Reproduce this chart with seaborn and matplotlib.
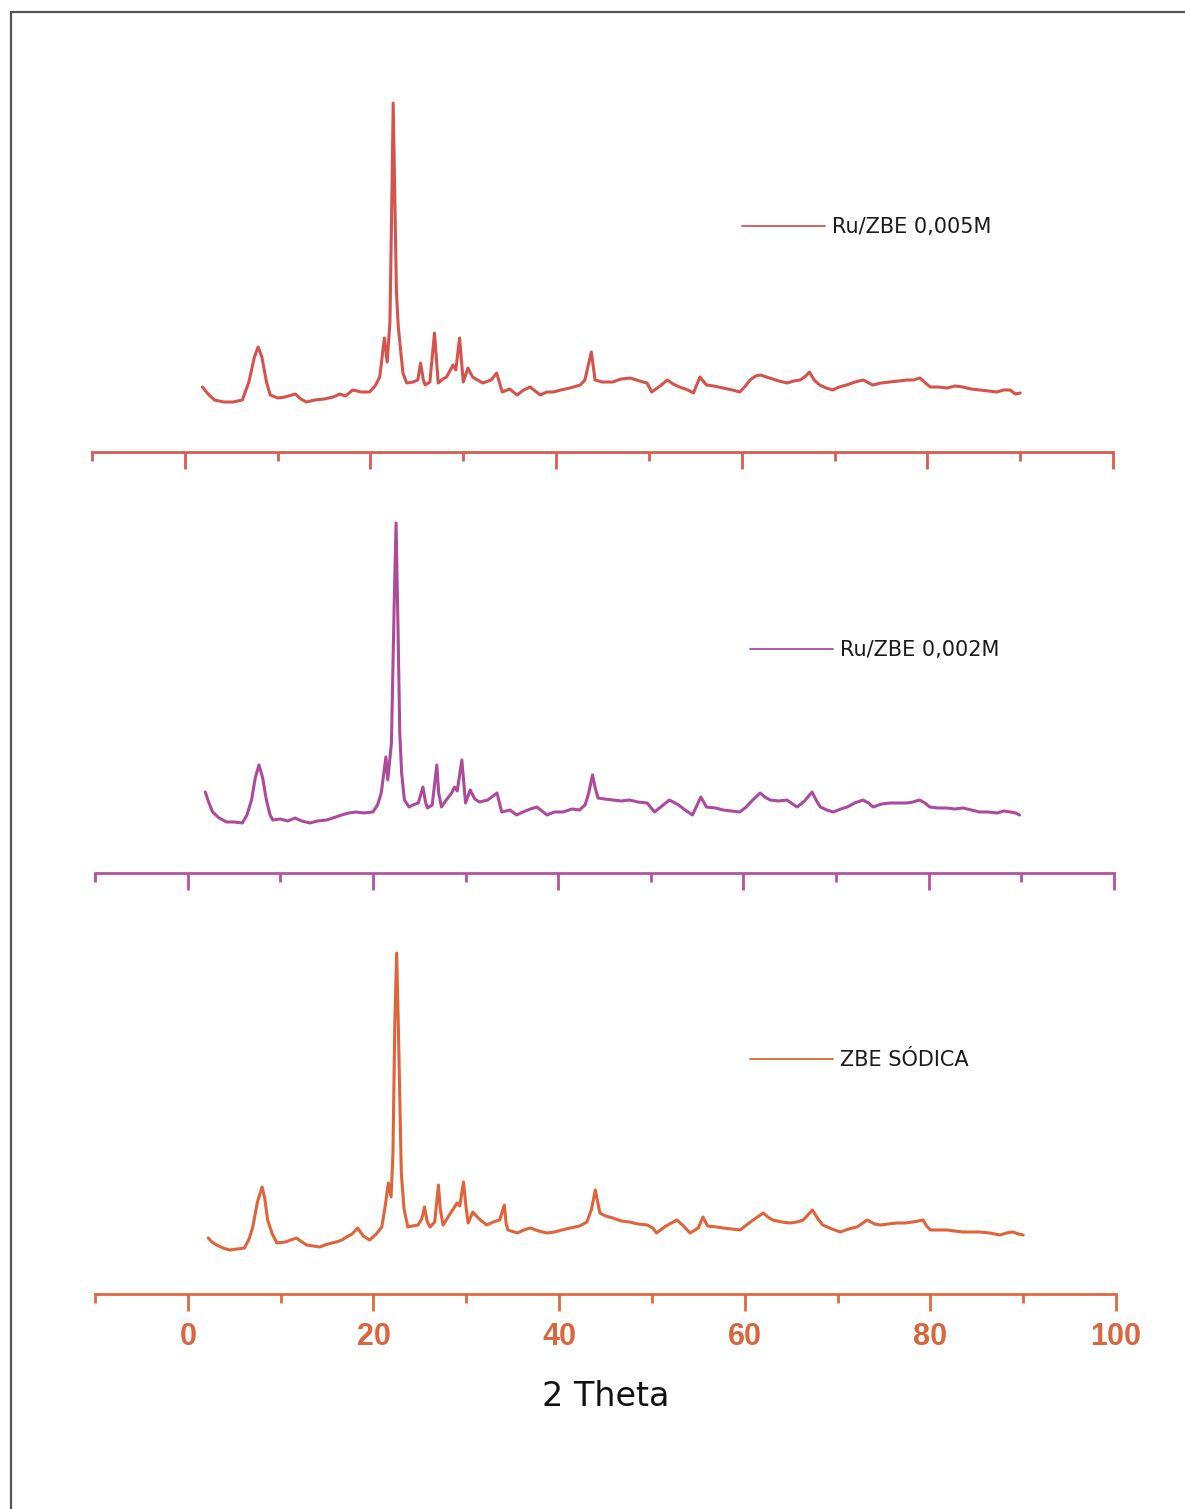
import matplotlib
matplotlib.use("Agg")
import matplotlib.pyplot as plt
import matplotlib.patches as mpatches
import seaborn as sns
import pandas as pd

# ---------------- data (intensity in a.u.) ----------------
x_ru005 = [1.9, 2.5, 3.2, 4.2, 5.2, 6.2, 6.9, 7.5, 7.9, 8.3, 8.8, 9.2, 10.0, 10.8, 11.9, 12.5, 13.1, 14.0,
           15.0, 16.0, 16.7, 17.3, 18.1, 19.0, 19.9, 20.5, 21.0, 21.5, 21.8, 22.1, 22.3, 22.45, 22.6, 22.8,
           23.0, 23.5, 23.9, 24.6, 25.1, 25.4, 25.7, 25.9, 26.4, 26.9, 27.3, 27.8, 28.2, 28.9, 29.2, 29.6,
           30.0, 30.5, 31.0, 32.1, 33.0, 33.6, 34.2, 35.0, 35.8, 36.5, 37.2, 38.3, 39.0, 39.7, 40.5, 41.5,
           42.6, 43.1, 43.8, 44.2, 45.0, 46.1, 47.0, 48.0, 49.0, 49.8, 50.3, 51.2, 52.0, 52.6, 53.3, 54.2,
           54.8, 55.5, 56.2, 57.0, 58.0, 59.0, 59.8, 60.4, 60.9, 61.5, 62.0, 63.0, 64.0, 64.9, 65.6, 66.3,
           66.9, 67.3, 67.8, 68.4, 69.1, 69.8, 70.5, 71.3, 72.2, 73.1, 74.1, 75.0, 76.0, 76.9, 77.8, 78.5,
           79.2, 79.8, 80.3, 81.2, 82.1, 83.0, 83.8, 84.7, 85.7, 86.6, 87.5, 88.2, 88.9, 89.5, 90.0]
y_ru005 = [65, 58, 52, 50, 50, 52, 70, 95, 105, 95, 70, 57, 54, 55, 58, 53, 50, 52,
           53, 55, 58, 56, 62, 60, 60, 66, 75, 114, 90, 130, 250, 349, 270, 160,
           125, 79, 69, 70, 72, 89, 72, 67, 70, 119, 69, 73, 75, 87, 82, 114,
           70, 84, 75, 69, 72, 79, 60, 63, 57, 62, 65, 57, 60, 60, 62, 64,
           67, 72, 100, 72, 70, 70, 73, 74, 71, 69, 60, 66, 72, 68, 65, 62,
           59, 75, 67, 66, 64, 62, 60, 66, 72, 76, 77, 74, 71, 69, 71, 72,
           76, 80, 72, 67, 64, 62, 65, 67, 70, 72, 67, 69, 70, 71, 72, 72,
           74, 69, 65, 65, 64, 66, 65, 63, 62, 61, 60, 62, 62, 58, 59]

x_ru002 = [1.9, 2.3, 2.7, 3.4, 4.2, 5.0, 5.9, 6.4, 6.9, 7.3, 7.7, 8.1, 8.5, 8.9, 9.2, 10.0, 10.8, 11.6,
           12.3, 13.2, 14.0, 15.0, 16.0, 16.6, 17.4, 18.2, 19.0, 20.0, 20.5, 20.9, 21.4, 21.6, 22.0, 22.3,
           22.5, 22.7, 22.9, 23.1, 23.4, 23.9, 24.3, 24.9, 25.4, 25.7, 25.9, 26.4, 26.9, 27.1, 27.4, 28.0,
           28.5, 28.8, 29.1, 29.6, 30.0, 30.5, 31.0, 31.5, 32.4, 33.4, 33.9, 34.8, 35.5, 36.2, 37.0, 37.7,
           38.8, 39.6, 40.5, 41.5, 42.3, 42.9, 43.3, 43.7, 44.0, 44.3, 45.0, 45.9, 46.8, 47.7, 48.6, 49.6,
           50.4, 51.2, 52.0, 53.0, 53.7, 54.5, 55.4, 56.0, 57.0, 57.8, 58.7, 59.6, 60.3, 61.0, 61.8, 62.3,
           62.9, 63.8, 64.7, 65.3, 65.8, 66.6, 67.4, 67.9, 68.3, 69.0, 69.7, 70.5, 71.2, 72.0, 72.9, 73.5,
           74.0, 74.9, 75.8, 76.7, 77.6, 78.3, 79.0, 79.6, 80.1, 81.0, 82.0, 82.8, 83.7, 84.6, 85.5, 86.4,
           87.4, 88.1, 88.8, 89.4, 89.8]
y_ru002 = [81, 70, 61, 55, 51, 51, 50, 58, 73, 95, 108, 95, 73, 58, 53, 54, 52, 55,
           52, 50, 52, 53, 56, 58, 60, 61, 60, 61, 68, 80, 116, 93, 130, 270,
           350, 250, 140, 100, 73, 66, 68, 70, 86, 70, 65, 68, 108, 80, 66, 74,
           80, 86, 82, 113, 70, 83, 74, 71, 73, 80, 61, 63, 58, 61, 64, 66,
           58, 61, 61, 64, 63, 68, 80, 98, 85, 75, 74, 73, 72, 73, 71, 70,
           61, 67, 73, 68, 63, 58, 76, 66, 65, 63, 62, 61, 66, 73, 80, 76,
           73, 72, 73, 69, 66, 72, 81, 72, 66, 63, 61, 64, 66, 70, 73, 70,
           66, 69, 70, 70, 70, 71, 73, 70, 66, 65, 65, 64, 65, 63, 61, 61,
           60, 62, 61, 60, 58]

x_zbe = [2.2, 2.6, 3.1, 3.8, 4.5, 5.3, 6.1, 6.6, 7.0, 7.5, 8.0, 8.3, 8.6, 9.1, 9.6, 10.5, 11.1, 11.7,
         12.3, 12.8, 13.5, 14.2, 15.1, 16.0, 16.6, 17.1, 17.7, 18.3, 18.9, 19.6, 20.3, 20.9, 21.3, 21.6,
         21.9, 22.1, 22.3, 22.5, 22.7, 23.0, 23.3, 23.7, 24.2, 24.8, 25.2, 25.5, 25.8, 26.1, 26.6, 27.0,
         27.2, 27.5, 28.1, 28.6, 29.0, 29.3, 29.7, 30.0, 30.2, 30.7, 31.4, 32.2, 32.9, 33.6, 34.1, 34.3,
         34.5, 35.5, 36.2, 36.9, 37.8, 38.7, 39.5, 40.3, 41.2, 42.2, 43.0, 43.5, 43.9, 44.2, 44.4, 45.0,
         45.8, 46.7, 47.6, 48.5, 49.5, 50.1, 50.5, 51.5, 52.7, 53.4, 54.1, 55.0, 55.5, 56.0, 57.0, 57.7,
         58.6, 59.5, 60.2, 60.9, 62.0, 62.5, 63.0, 64.0, 64.9, 65.6, 66.3, 67.3, 67.9, 68.4, 69.4, 70.3,
         71.2, 72.1, 73.2, 74.0, 74.6, 75.5, 76.4, 77.3, 78.1, 78.7, 79.2, 79.6, 80.0, 80.9, 81.8, 82.6,
         83.5, 84.4, 85.3, 86.4, 87.5, 88.2, 88.9, 89.5, 90.0]
y_zbe = [56, 52, 49, 46, 44, 45, 46, 55, 67, 92, 107, 95, 74, 60, 51, 52, 54, 56,
         52, 49, 48, 47, 50, 52, 54, 57, 60, 66, 58, 54, 60, 67, 90, 111,
         97, 140, 270, 341, 260, 121, 85, 67, 68, 69, 75, 87, 72, 67, 72, 109,
         85, 69, 78, 85, 91, 88, 112, 85, 71, 82, 75, 69, 72, 74, 89, 70,
         64, 61, 64, 66, 63, 61, 62, 64, 66, 68, 72, 85, 104, 90, 81, 78,
         76, 73, 72, 70, 69, 66, 61, 68, 74, 68, 61, 66, 77, 68, 67, 66,
         65, 64, 69, 74, 81, 77, 74, 72, 71, 72, 74, 84, 75, 69, 65, 62,
         65, 67, 74, 70, 69, 70, 71, 71, 72, 73, 74, 68, 64, 64, 64, 63,
         62, 62, 62, 61, 59, 61, 62, 60, 59]

labels = ["Ru/ZBE 0,005M", "Ru/ZBE 0,002M", "ZBE SÓDICA"]
major_ticks = [0, 20, 40, 60, 80, 100]
minor_ticks = [-10, 10, 30, 50, 70, 90]
x_label = "2 Theta"

# ---------------- style ----------------
sns.set_style("white")
plt.rcParams["font.family"] = ["Liberation Sans", "DejaVu Sans"]

W, H = 1185, 1509
fig = plt.figure(figsize=(W / 100, H / 100), dpi=100)
fig.patch.set_facecolor("white")

curve_colors = ["#d6534c", "#ad4a9d", "#e0633a"]
axis_colors = ["#dc5b52", "#b452a5", "#e2693e"]
label_color = "#d9663c"

# panel geometry in pixels: (left, right, axis y)
panels = [(92, 1113, 452), (95, 1114, 873), (95, 1116, 1294)]
panel_h = 380
legend_anchor = [(742, 227), (750, 650), (750, 1060)]

series = [(x_ru005, y_ru005), (x_ru002, y_ru002), (x_zbe, y_zbe)]

for i, ((xl, xr, yb), (xs, ys)) in enumerate(zip(panels, series)):
    ax = fig.add_axes([xl / W, (H - yb) / H, (xr - xl) / W, panel_h / H])
    ax.set_facecolor("none")
    df = pd.DataFrame({"x": xs, "y": ys})
    sns.lineplot(data=df, x="x", y="y", ax=ax, color=curve_colors[i], linewidth=2.2,
                 estimator=None, sort=False, label=labels[i])
    for ln in ax.get_lines():
        ln.set_solid_joinstyle("round")
    ax.set_xlim(-10, 100)
    ax.set_ylim(0, panel_h)
    ax.set_yticks([])
    ax.set_ylabel("")
    ax.set_xlabel("")
    for s in ["top", "left", "right"]:
        ax.spines[s].set_visible(False)
    ax.spines["bottom"].set_color(axis_colors[i])
    ax.spines["bottom"].set_linewidth(2.0)
    ax.set_xticks(major_ticks)
    ax.set_xticks(minor_ticks, minor=True)
    ax.tick_params(axis="x", which="both", bottom=True, top=False)
    ax.tick_params(axis="x", which="major", direction="out", length=12.5, width=2.0,
                   color=axis_colors[i], pad=8)
    ax.tick_params(axis="x", which="minor", direction="out", length=6.5, width=2.0,
                   color=axis_colors[i])
    if i < 2:
        ax.tick_params(axis="x", which="both", labelbottom=False)
    else:
        ax.set_xticklabels([str(t) for t in major_ticks], fontsize=22, fontweight="bold",
                           color=label_color)
        ax.set_xlabel(x_label, fontsize=24, color="#111111", labelpad=20,
                      family=["DejaVu Sans"])

    lx, ly = legend_anchor[i]
    leg = ax.legend(loc="center left",
                    bbox_to_anchor=((lx - xl) / (xr - xl), (yb - ly) / panel_h),
                    frameon=False, prop={"family": "DejaVu Sans", "size": 15},
                    handlelength=4.0, handletextpad=0.3,
                    borderpad=0, borderaxespad=0)
    for ln in leg.get_lines():
        ln.set_linewidth(1.3)
    for t in leg.get_texts():
        t.set_color("#1a1a1a")

# outer frame (scanned page border, continuing beyond right/bottom)
frame = mpatches.Rectangle((11 / W, -0.1), 1.2, (H - 12) / H + 0.1, transform=fig.transFigure,
                           fill=False, edgecolor="#555555", linewidth=1.6, clip_on=False)
fig.patches.append(frame)

fig.savefig("out.png", dpi=100)
